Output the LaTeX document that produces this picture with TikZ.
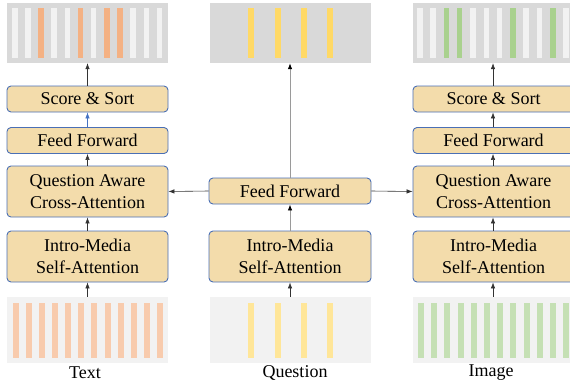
\documentclass[tikz,border=0pt]{standalone}
\usepackage{fontspec}
\setmainfont{Liberation Serif}
\usetikzlibrary{arrows.meta}

\definecolor{boxfill}{HTML}{F3DCAB}
\definecolor{boxline}{HTML}{4A6FB5}
\definecolor{panelhi}{HTML}{D9D9D9}
\definecolor{panello}{HTML}{F2F2F2}
\definecolor{barlight}{HTML}{F2F2F2}
\definecolor{orangehi}{HTML}{F4B183}
\definecolor{orangelo}{HTML}{F8CBAD}
\definecolor{yellowhi}{HTML}{FFD966}
\definecolor{yellowlo}{HTML}{FFE699}
\definecolor{greenhi}{HTML}{A9D18E}
\definecolor{greenlo}{HTML}{C5E0B4}
\definecolor{arrowgray}{HTML}{9A9A9A}
\definecolor{arrowblue}{HTML}{4472C4}

\tikzset{
  block/.style={draw=boxline, fill=boxfill, line width=0.9pt, rounded corners=4pt,
    minimum width=161pt, inner sep=0pt, align=center,
    font=\fontsize{18}{21.5}\selectfont},
  onerow/.style={minimum height=26pt},
  tworow/.style={minimum height=51pt},
  panel/.style={minimum width=161pt, minimum height=60pt, inner sep=0pt},
  flow/.style={draw=black!80, line width=0.6pt, -{Latex[length=6pt,width=4.5pt]}},
  grayflow/.style={draw=arrowgray, line width=0.8pt, -{Latex[length=6pt,width=4.5pt,color=black]}},
  blueflow/.style={draw=arrowblue, line width=0.6pt, -{Latex[length=6pt,width=4.5pt]}},
  caption/.style={font=\fontsize{18}{21.5}\selectfont, inner sep=0pt}
}

\begin{document}
\begin{tikzpicture}[x=1pt, y=-1pt]
\useasboundingbox (0,0) rectangle (570,386);
\begin{scope}
\clip (0,0) rectangle (570,386);

% ---- output panels ----
\node[panel, fill=panelhi] (lt) at (87.5,33) {};
\node[panel, fill=panelhi] (mt) at (290,33) {};
\node[panel, fill=panelhi] (rt) at (493.5,33) {};
% text tokens after selection
\foreach \i in {0,...,11} {
  \def\c{barlight}
  \ifnum\i=2 \def\c{orangehi}\fi
  \ifnum\i=5 \def\c{orangehi}\fi
  \ifnum\i=7 \def\c{orangehi}\fi
  \ifnum\i=8 \def\c{orangehi}\fi
  \fill[\c] ({12+13.15*\i},8) rectangle ++(5.5,50);
}
% question tokens
\foreach \xx in {248,275,301,327}
  \fill[yellowhi] (\xx,8) rectangle ++(6,50);
% image tokens after selection
\foreach \i in {0,...,11} {
  \def\c{barlight}
  \ifnum\i=2 \def\c{greenhi}\fi
  \ifnum\i=3 \def\c{greenhi}\fi
  \ifnum\i=7 \def\c{greenhi}\fi
  \ifnum\i=10 \def\c{greenhi}\fi
  \fill[\c] ({417+13.3*\i},8) rectangle ++(5.5,50);
}

% ---- input panels ----
\node[panel, fill=panello, minimum height=66pt] (lb) at (87.5,330) {};
\node[panel, fill=panello, minimum height=66pt] (mb) at (290,330) {};
\node[panel, fill=panello, minimum height=66pt] (rb) at (493.5,330) {};
\foreach \i in {0,...,11}
  \fill[orangelo] ({12.5+13.15*\i},303) rectangle ++(6,55);
\foreach \xx in {248,275,301,327}
  \fill[yellowlo] (\xx,303) rectangle ++(6,55);
\foreach \i in {0,...,11}
  \fill[greenlo] ({418+13.2*\i},303) rectangle ++(6,55);

% ---- captions ----
\node[caption] (ct) at (85,373) {Text};
\node[caption] (cq) at (295,373) {Question};
\node[caption] (ci) at (491,373) {Image};

% ---- left (text) column ----
\node[block, onerow] (ls) at (87.5,99) {Score \& Sort};
\node[block, onerow] (lf) at (87.5,140.5) {Feed Forward};
\node[block, tworow] (lc) at (87.5,191.5) {Question Aware\\Cross-Attention};
\node[block, tworow] (li) at (87.5,256.5) {Intro-Media\\Self-Attention};

% ---- middle (question) column ----
\node[block, onerow, minimum width=162pt] (mf) at (290,191) {Feed Forward};
\node[block, tworow, minimum width=162pt] (mi) at (290,256.5) {Intro-Media\\Self-Attention};

% ---- right (image) column ----
\node[block, onerow] (rs) at (493.5,99) {Score \& Sort};
\node[block, onerow] (rf) at (493.5,140.5) {Feed Forward};
\node[block, tworow] (rc) at (493.5,191.5) {Question Aware\\Cross-Attention};
\node[block, tworow] (ri) at (493.5,256.5) {Intro-Media\\Self-Attention};

% ---- connectors ----
\draw[flow] (lb.north) -- (li.south);
\draw[flow] (li.north) -- (lc.south);
\draw[flow] (lc.north) -- (lf.south);
\draw[blueflow] (lf.north) -- (ls.south);
\draw[flow] (ls.north) -- (lt.south);

\draw[flow] (mb.north) -- (mi.south);
\draw[grayflow] (mi.north) -- (mf.south);
\draw[grayflow] (mf.north) -- (mt.south);
\draw[flow] (mf.west) -- (lc.east);
\draw[flow] (mf.east) -- (rc.west);

\draw[flow] ([xshift=-0.5pt]rb.north) -- ([xshift=-0.5pt]ri.south);
\draw[flow] ([xshift=-0.5pt]ri.north) -- ([xshift=-0.5pt]rc.south);
\draw[flow] ([xshift=-0.5pt]rc.north) -- ([xshift=-0.5pt]rf.south);
\draw[flow] ([xshift=-0.5pt]rf.north) -- ([xshift=-0.5pt]rs.south);
\draw[flow] ([xshift=-0.5pt]rs.north) -- ([xshift=-0.5pt]rt.south);
\end{scope}
\end{tikzpicture}
\end{document}
